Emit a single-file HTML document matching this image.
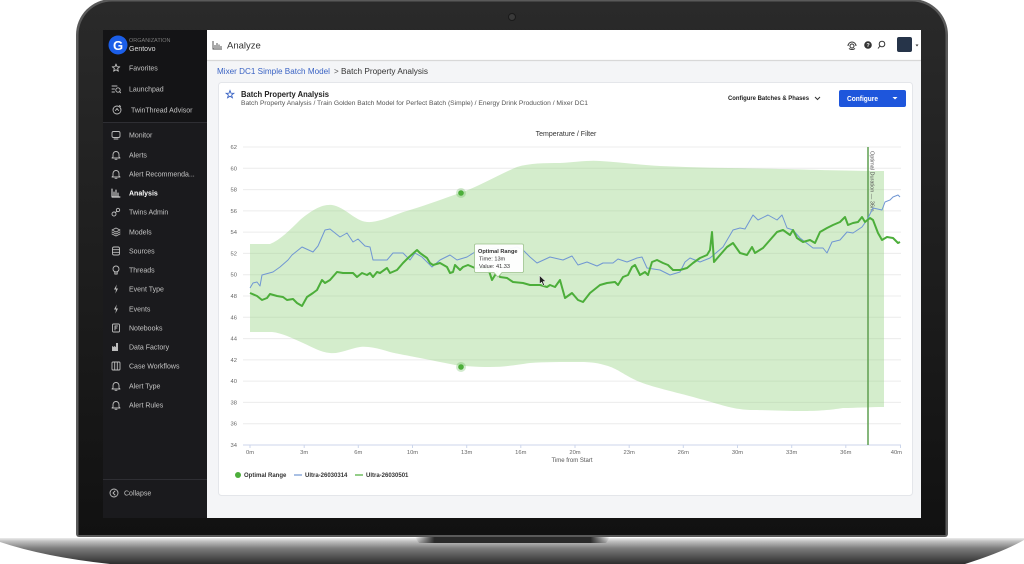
<!DOCTYPE html>
<html><head><meta charset="utf-8"><style>
html,body{margin:0;padding:0;background:#fff;width:1024px;height:564px;overflow:hidden}
svg{display:block}
text{font-family:"Liberation Sans",Arial,sans-serif}
</style></head><body>
<svg width="1024" height="564" viewBox="0 0 1024 564" xmlns="http://www.w3.org/2000/svg">
<defs>
<linearGradient id="bz" x1="0" y1="0" x2="0" y2="1"><stop offset="0" stop-color="#2a2a2a"/><stop offset="1" stop-color="#111"/></linearGradient>
<linearGradient id="base" x1="0" y1="0" x2="0" y2="1"><stop offset="0" stop-color="#ececec"/><stop offset="0.12" stop-color="#c2c2c2"/><stop offset="0.4" stop-color="#7c7c7c"/><stop offset="1" stop-color="#2e2e2e"/></linearGradient>
<linearGradient id="notch" x1="0" y1="0" x2="1" y2="0"><stop offset="0" stop-color="#3a3a3a" stop-opacity="0"/><stop offset="0.1" stop-color="#2a2a2a"/><stop offset="0.9" stop-color="#2a2a2a"/><stop offset="1" stop-color="#3a3a3a" stop-opacity="0"/></linearGradient>
</defs>

<!-- base -->
<path d="M0,538 L1024,538 L1024,540 Q1003,552 965,564 L110,564 Q45,557 0,542 Z" fill="url(#base)"/>
<path d="M415,537 L610,537 L606,543 L419,543 Z" fill="url(#notch)"/>

<!-- lid -->
<path d="M79,537 A3,3 0 0 1 76,534 L76,35 A36,36 0 0 1 112,-1 L912,-1 A36,36 0 0 1 948,35 L948,534 A3,3 0 0 1 945,537 Z" fill="#5a5a5a"/>
<path d="M78.5,535 L78.5,35 A33.5,33.5 0 0 1 112,1.5 L912,1.5 A33.5,33.5 0 0 1 945.5,35 L945.5,535 Z" fill="url(#bz)"/>
<circle cx="512" cy="17" r="3.5" fill="#3a3a3a" stroke="#1a1a1a" stroke-width="1"/>

<!-- sidebar -->
<rect x="103" y="30" width="104" height="488" fill="#1a1a1d"/>
<rect x="103" y="30" width="104" height="92" fill="#141416"/>
<line x1="103" y1="122.5" x2="207" y2="122.5" stroke="#2e2e33" stroke-width="1"/>
<line x1="103" y1="479.5" x2="207" y2="479.5" stroke="#2e2e33" stroke-width="1"/>

<circle cx="118" cy="45" r="9.5" fill="#1b5ee8"/>
<text x="118" y="50" font-size="13" font-weight="bold" fill="#fff" text-anchor="middle">G</text>
<text x="129" y="42" font-size="5.5" fill="#7a7a7a">ORGANIZATION</text>
<text x="129" y="51" font-size="7" fill="#dedede">Gentovo</text>

<g fill="none" stroke="#bdbdbd" stroke-width="0.9" stroke-linecap="round" stroke-linejoin="round">
 <polygon transform="translate(116,68)" points="0,-4 1.0,-1.3 3.8,-1.2 1.6,0.5 2.4,3.2 0,1.7 -2.4,3.2 -1.6,0.5 -3.8,-1.2 -1.0,-1.3"/>
 <g transform="translate(116,89)"><path d="M-4,-3 H1 M-4,0 H-1.5 M-4,3 H-1.5"/><circle cx="2" cy="1" r="2.2"/><path d="M3.6,2.6 L4.6,3.8"/></g>
 <g transform="translate(117,110)"><circle r="4"/><path d="M-1.5,0.5 L0,-1.5 L1.5,0.5"/><path d="M2.5,-4.5 L3.5,-3.5"/></g>
 <g transform="translate(116,135)"><rect x="-4" y="-3.5" width="8" height="6" rx="1.5"/><path d="M-2,4 H2"/></g>
 <g transform="translate(116,155)"><path d="M-3,2 V-0.5 A3,3 0 0 1 3,-0.5 V2 L4,3 H-4 Z M-1,4.3 H1"/></g>
 <g transform="translate(116,174)"><path d="M-3,2 V-0.5 A3,3 0 0 1 3,-0.5 V2 L4,3 H-4 Z M-1,4.3 H1"/></g>
 <g transform="translate(116,193)" stroke="#fff"><path d="M-4,-4 V4 H4 M-2,3 V-1 M0,3 V-3 M2,3 V0"/></g>
 <g transform="translate(116,212)"><circle cx="-2" cy="2" r="2"/><circle cx="2" cy="-2" r="1.7"/><path d="M-0.6,0.6 L0.8,-0.8"/></g>
 <g transform="translate(116,232)"><path d="M0,-4 L4,-2 L0,0 L-4,-2 Z M-4,0 L0,2 L4,0 M-4,2 L0,4 L4,2"/></g>
 <g transform="translate(116,251)"><rect x="-3.5" y="-4" width="7" height="8" rx="1.5"/><path d="M-3.5,-1.3 H3.5 M-3.5,1.3 H3.5"/></g>
 <g transform="translate(116,270)"><circle cx="0" cy="-1" r="3"/><path d="M-1.2,2 V4 H1.2 V2"/></g>
 <g transform="translate(116,328)"><rect x="-3.5" y="-4" width="7" height="8" rx="1"/><path d="M-1,-2 V2 M-1,-2 H1.5 M-1,0 H1"/></g>
 <g transform="translate(116,366)"><rect x="-4" y="-4" width="8" height="8" rx="1"/><path d="M-1.3,-4 V4 M1.3,-4 V4"/></g>
 <g transform="translate(116,386)"><path d="M-3,2 V-0.5 A3,3 0 0 1 3,-0.5 V2 L4,3 H-4 Z M-1,4.3 H1"/></g>
 <g transform="translate(116,405)"><path d="M-3,2 V-0.5 A3,3 0 0 1 3,-0.5 V2 L4,3 H-4 Z M-1,4.3 H1"/></g>
 <circle cx="114" cy="493" r="4"/><path d="M115,491 L113,493 L115,495"/>
</g>
<g fill="#bdbdbd">
 <polygon transform="translate(116,289)" points="0.8,-4.5 -2,0.5 0,0.5 -0.6,4.5 2,-0.5 0,-0.5"/>
 <polygon transform="translate(116,309)" points="0.8,-4.5 -2,0.5 0,0.5 -0.6,4.5 2,-0.5 0,-0.5"/>
 <path transform="translate(116,347)" d="M-4,4 V-1 L-2,0 V-1 L0,0 V-4 H2 V4 Z"/>
</g>

<g font-size="7" fill="#c4c4c4">
 <text x="129" y="70.5">Favorites</text>
 <text x="129" y="91.5">Launchpad</text>
 <text x="131" y="112.5">TwinThread Advisor</text>
 <text x="129" y="137.5">Monitor</text>
 <text x="129" y="157.5">Alerts</text>
 <text x="129" y="176.5">Alert Recommenda...</text>
 <text x="129" y="195.5" fill="#fff" font-weight="bold">Analysis</text>
 <text x="129" y="214.5">Twins Admin</text>
 <text x="129" y="234.5">Models</text>
 <text x="129" y="253.5">Sources</text>
 <text x="129" y="272.5">Threads</text>
 <text x="129" y="291.5">Event Type</text>
 <text x="129" y="311.5">Events</text>
 <text x="129" y="330.5">Notebooks</text>
 <text x="129" y="349.5">Data Factory</text>
 <text x="129" y="368.5">Case Workflows</text>
 <text x="129" y="388.5">Alert Type</text>
 <text x="129" y="407.5">Alert Rules</text>
 <text x="124" y="495.5">Collapse</text>
</g>

<!-- main -->
<rect x="207" y="30" width="714" height="488" fill="#f4f5f7"/>
<rect x="207" y="30" width="714" height="30" fill="#fff"/>
<line x1="207" y1="60.5" x2="921" y2="60.5" stroke="#d8d8d8" stroke-width="1.2"/>
<g fill="none" stroke="#444" stroke-width="0.9"><path d="M213,41 V49 H222 M215,48 V45 M217,48 V43 M219,48 V44.5 M221,48 V46"/></g>
<text x="227" y="48.5" font-size="9.5" fill="#333">Analyze</text>

<g fill="none" stroke="#333" stroke-width="1">
 <path d="M848,46 A4,4 0 0 1 856,46"/><circle cx="852" cy="46" r="2"/><path d="M849,48.5 A4,3 0 0 0 855,48.5"/>
 <circle cx="882" cy="44" r="2.8"/><path d="M880,46 L878,48.5"/>
</g>
<circle cx="868" cy="45" r="3.8" fill="#333"/>
<text x="868" y="47" font-size="5.5" font-weight="bold" fill="#fff" text-anchor="middle">?</text>
<rect x="897" y="37" width="15" height="15" rx="2" fill="#263449"/>
<path d="M915.5,44.5 L918.5,44.5 L917,46.5 Z" fill="#333"/>

<text x="217" y="74" font-size="8" fill="#3a63c4" textLength="113" lengthAdjust="spacingAndGlyphs">Mixer DC1 Simple Batch Model</text>
<text x="334" y="74" font-size="8" fill="#555">&gt;</text>
<text x="341" y="74" font-size="7.8" fill="#333" textLength="87" lengthAdjust="spacingAndGlyphs">Batch Property Analysis</text>

<!-- card -->
<rect x="218.5" y="82.5" width="694" height="413" rx="3" fill="#fff" stroke="#e4e6ea"/>
<polygon transform="translate(230,94.5)" points="0,-4 1.0,-1.3 3.8,-1.2 1.6,0.5 2.4,3.2 0,1.7 -2.4,3.2 -1.6,0.5 -3.8,-1.2 -1.0,-1.3" fill="none" stroke="#3a63c4" stroke-width="0.9"/>
<text x="241" y="97" font-size="8" font-weight="bold" fill="#222" textLength="88" lengthAdjust="spacingAndGlyphs">Batch Property Analysis</text>
<text x="241" y="105" font-size="6.4" fill="#555" textLength="347" lengthAdjust="spacingAndGlyphs">Batch Property Analysis / Train Golden Batch Model for Perfect Batch (Simple) / Energy Drink Production / Mixer DC1</text>
<text x="728" y="100" font-size="6.5" font-weight="bold" fill="#222" textLength="81" lengthAdjust="spacingAndGlyphs">Configure Batches &amp; Phases</text>
<path d="M815,97 L817.5,99.5 L820,97" fill="none" stroke="#333" stroke-width="1"/>
<rect x="839" y="90" width="67" height="17" rx="2" fill="#1e56dc"/>
<text x="847" y="101" font-size="7" font-weight="bold" fill="#fff" textLength="31" lengthAdjust="spacingAndGlyphs">Configure</text>
<path d="M892.5,97 L897.5,97 L895,99.5 Z" fill="#fff"/>

<text x="566" y="136" font-size="7" fill="#333" text-anchor="middle">Temperature / Filter</text>

<!-- grid -->
<g stroke="#ececec" stroke-width="1">
 <line x1="243" y1="147" x2="901" y2="147"/>
 <line x1="243" y1="168.3" x2="901" y2="168.3"/>
 <line x1="243" y1="189.6" x2="901" y2="189.6"/>
 <line x1="243" y1="210.9" x2="901" y2="210.9"/>
 <line x1="243" y1="232.1" x2="901" y2="232.1"/>
 <line x1="243" y1="253.4" x2="901" y2="253.4"/>
 <line x1="243" y1="274.7" x2="901" y2="274.7"/>
 <line x1="243" y1="296" x2="901" y2="296"/>
 <line x1="243" y1="317.3" x2="901" y2="317.3"/>
 <line x1="243" y1="338.6" x2="901" y2="338.6"/>
 <line x1="243" y1="359.9" x2="901" y2="359.9"/>
 <line x1="243" y1="381.1" x2="901" y2="381.1"/>
 <line x1="243" y1="402.4" x2="901" y2="402.4"/>
 <line x1="243" y1="423.7" x2="901" y2="423.7"/>
</g>
<g font-size="5.8" fill="#666" text-anchor="end">
 <text x="237" y="149">62</text><text x="237" y="170.3">60</text><text x="237" y="191.6">58</text>
 <text x="237" y="212.9">56</text><text x="237" y="234.1">54</text><text x="237" y="255.4">52</text>
 <text x="237" y="276.7">50</text><text x="237" y="298">48</text><text x="237" y="319.3">46</text>
 <text x="237" y="340.6">44</text><text x="237" y="361.9">42</text><text x="237" y="383.1">40</text>
 <text x="237" y="404.4">38</text><text x="237" y="425.7">36</text><text x="237" y="447">34</text>
</g>

<!-- band -->
<path d="M250,244 L270,244 C280,240 290,230 300,220 C312,210 322,204 332,205 C345,207 355,221 367,222 C380,223 395,214 410,210 C430,204 445,198 460,193 C480,186 500,174 517,167 C530,163 545,163 560,163 C575,162 590,160 600,161 C620,162 640,165 660,166 C700,168 740,168 780,169 C820,170 860,171 884,171 L884,407 C870,407 855,408 843,408 C830,410 820,411 800,411 C780,411 770,410 750,410 C730,409 720,404 700,399 C680,393 655,388 640,382 C625,376 620,370 608,366 C598,363 592,362 580,362 C560,362 545,362 530,363 C515,365 505,367 490,367 C475,367 465,366 455,365 C440,362 430,360 420,358 C405,355 398,354 390,352 C380,349 370,346 360,347 C348,349 340,354 330,353 C320,352 312,347 303,343 C292,338 282,333 272,332 L250,332 Z" fill="#8fcf7a" fill-opacity="0.38"/>

<!-- axis -->
<line x1="243" y1="445" x2="901" y2="445" stroke="#ccd6eb" stroke-width="1"/>
<g stroke="#ccd6eb" stroke-width="1">
 <line x1="250" y1="445" x2="250" y2="448"/><line x1="304.2" y1="445" x2="304.2" y2="448"/>
 <line x1="358.3" y1="445" x2="358.3" y2="448"/><line x1="412.5" y1="445" x2="412.5" y2="448"/>
 <line x1="466.7" y1="445" x2="466.7" y2="448"/><line x1="520.8" y1="445" x2="520.8" y2="448"/>
 <line x1="575" y1="445" x2="575" y2="448"/><line x1="629.2" y1="445" x2="629.2" y2="448"/>
 <line x1="683.3" y1="445" x2="683.3" y2="448"/><line x1="737.5" y1="445" x2="737.5" y2="448"/>
 <line x1="791.7" y1="445" x2="791.7" y2="448"/><line x1="845.8" y1="445" x2="845.8" y2="448"/>
 <line x1="900.5" y1="445" x2="900.5" y2="448"/>
</g>
<g font-size="5.8" fill="#666" text-anchor="middle">
 <text x="250" y="454">0m</text><text x="304.2" y="454">3m</text><text x="358.3" y="454">6m</text>
 <text x="412.5" y="454">10m</text><text x="466.7" y="454">13m</text><text x="520.8" y="454">16m</text>
 <text x="575" y="454">20m</text><text x="629.2" y="454">23m</text><text x="683.3" y="454">26m</text>
 <text x="737.5" y="454">30m</text><text x="791.7" y="454">33m</text><text x="845.8" y="454">36m</text>
 <text x="902" y="454" text-anchor="end">40m</text>
</g>
<text x="572" y="462" font-size="6" fill="#555" text-anchor="middle">Time from Start</text>

<!-- vertical line -->
<line x1="868" y1="147" x2="868" y2="445" stroke="#5f9f50" stroke-width="1.5"/>
<text transform="translate(870.5,151) rotate(90)" font-size="5.5" fill="#555">Optimal Duration — 36m</text>

<!-- blue series -->
<polyline fill="none" stroke="#7096d3" stroke-width="1" stroke-linejoin="round" points="250,288 253,283 257,282 260,286 262,275 273,272 280,267 288,260 292,255 302,247 313,252 318,246 325,230 330,229 340,237 347,233 353,242 358,239 365,246 370,247 373,260 387,260 393,253 403,253 410,260 415,253 422,257 432,267 440,260 450,255 457,260 467,257 475,252 485,250 495,248 505,250 517,247 523,250 530,257 537,263 550,257 563,260 572,256 578,265 587,262 597,266 603,263 613,263 618,259 627,262 637,258 642,257 647,268 660,270 670,275 680,272 685,262 690,258 700,262 710,258 723,247 733,230 740,228 745,229 753,215 758,220 768,215 777,220 782,215 787,228 793,230 800,238 813,248 823,248 827,253 832,242 840,240 847,232 853,233 862,227 867,220 873,208 882,210 885,202 890,200 893,197 898,195 900,197"/>

<!-- green series -->
<polyline fill="none" stroke="#4cae3a" stroke-width="2" stroke-linejoin="round" points="250,293 257,296 262,300 267,298 270,294 277,296 283,297 287,300 293,299 297,303 302,306 307,297 313,293 317,290 322,280 325,283 330,280 337,272 343,273 353,273 357,277 362,273 367,275 370,273 373,277 377,272 380,273 387,268 390,273 397,270 403,263 408,258 417,250 420,253 427,258 430,263 433,265 440,263 447,267 450,273 453,272 455,265 460,270 463,267 468,265 475,268 482,268 488,268 492,280 497,272 500,277 507,278 513,282 523,283 530,285 540,285 547,287 550,285 555,287 560,280 565,298 572,293 578,300 583,302 590,293 600,285 607,283 615,282 618,285 623,277 628,275 632,267 635,265 640,275 645,272 648,275 652,262 657,260 663,263 668,265 673,270 680,270 687,268 693,263 700,258 707,255 710,250 712,232 714,262 720,255 727,247 733,243 740,253 747,255 752,247 755,253 763,248 770,240 777,232 783,230 790,235 793,230 797,238 803,242 810,240 815,243 820,232 827,228 833,225 840,222 845,217 848,225 853,223 858,222 862,217 865,222 870,218 873,220 878,233 882,240 887,237 893,238 898,243 900,242"/>

<!-- markers -->
<circle cx="461" cy="193" r="5" fill="#4cae3a" fill-opacity="0.25"/>
<circle cx="461" cy="193" r="2.8" fill="#4cae3a"/>
<circle cx="461" cy="367" r="5" fill="#4cae3a" fill-opacity="0.25"/>
<circle cx="461" cy="367" r="2.8" fill="#4cae3a"/>

<!-- tooltip -->
<path d="M476,244 H522 A1.5,1.5 0 0 1 523.5,245.5 V271 A1.5,1.5 0 0 1 522,272.5 H502 L498,277 L494,272.5 H476 A1.5,1.5 0 0 1 474.5,271 V245.5 A1.5,1.5 0 0 1 476,244 Z" fill="#fff" fill-opacity="0.95" stroke="#9cc18c" stroke-width="0.8"/>
<text x="478" y="253" font-size="5.6" font-weight="bold" fill="#333">Optimal Range</text>
<text x="479" y="260.5" font-size="5.6" fill="#333">Time: 13m</text>
<text x="479" y="268" font-size="5.6" fill="#333">Value: 41.33</text>

<!-- cursor -->
<path d="M539.5,275.5 L539.5,284 L541.6,282 L543.3,285.8 L544.6,285.2 L543,281.5 L545.8,281.5 Z" fill="#222" stroke="#fff" stroke-width="0.5"/>

<!-- legend -->
<circle cx="238" cy="475" r="3" fill="#4cae3a"/>
<text x="244" y="477" font-size="6" font-weight="bold" fill="#333">Optimal Range</text>
<line x1="294" y1="475" x2="302" y2="475" stroke="#7096d3" stroke-width="1.2"/>
<text x="305" y="477" font-size="6" font-weight="bold" fill="#333">Ultra-26030314</text>
<line x1="355" y1="475" x2="363" y2="475" stroke="#4cae3a" stroke-width="1.2"/>
<text x="366" y="477" font-size="6" font-weight="bold" fill="#333">Ultra-26030501</text>
</svg>
</body></html>
